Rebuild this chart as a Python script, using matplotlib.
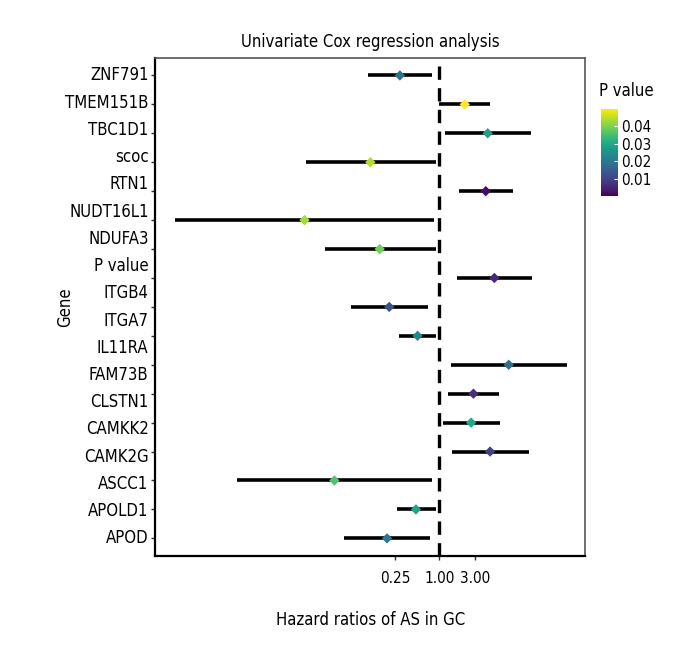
import numpy as np
import matplotlib
matplotlib.use("Agg")
from matplotlib import pyplot as plt
from matplotlib import colors as mcolors
from matplotlib import cm
import matplotlib.ticker as mticker

plt.rcParams['font.family'] = ['DejaVu Sans']
plt.rcParams['font.stretch'] = 'condensed'

# gene labels as shown on the y axis (18 labels over 17 rows)
gene_labels = ['ZNF791', 'TMEM151B', 'TBC1D1', 'scoc', 'RTN1', 'NUDT16L1',
               'NDUFA3', 'P value', 'ITGB4', 'ITGA7', 'IL11RA', 'FAM73B',
               'CLSTN1', 'CAMKK2', 'CAMK2G', 'ASCC1', 'APOLD1', 'APOD']

# hazard ratios and 95% CI, one per plotted row (top to bottom)
hr = [0.291, 2.20, 4.50, 0.116, 4.23, 0.0149, 0.155, 5.53, 0.209, 0.505,
      8.65, 2.88, 2.68, 4.84, 0.0378, 0.480, 0.195]
ci_low = [0.107, 1.00, 1.19, 0.0155, 1.83, 0.000267, 0.0280, 1.72, 0.0643,
          0.286, 1.45, 1.31, 1.11, 1.47, 0.00184, 0.263, 0.0507]
ci_high = [0.797, 4.84, 17.1, 0.903, 9.79, 0.830, 0.894, 18.0, 0.697, 0.894,
           52.5, 6.40, 6.66, 16.1, 0.790, 0.894, 0.749]
p_value = [0.019, 0.0498, 0.028, 0.044, 0.002, 0.043, 0.039, 0.006, 0.013,
           0.023, 0.019, 0.0067, 0.030, 0.010, 0.036, 0.029, 0.020]

x_ticks = [0.25, 1.0, 3.0]
x_tick_labels = ['0.25', '1.00', '3.00']
cbar_ticks = [0.01, 0.02, 0.03, 0.04]

rows = np.arange(len(hr))
norm = mcolors.Normalize(vmin=0.0004, vmax=0.0498)
cmap = plt.get_cmap('viridis')

fig = plt.figure(figsize=(6.8, 6.6), dpi=100)
ax = fig.add_axes([0.228, 0.158, 0.633, 0.754])

ax.hlines(rows, ci_low, ci_high, color='black', lw=2.6, zorder=2)
ax.axvline(1.0, color='black', lw=2.4, ls=(0, (4, 2.5)), zorder=1)
ax.scatter(hr, rows, c=p_value, cmap=cmap, norm=norm, marker='D', s=28,
           zorder=3, linewidths=0)

ax.set_xscale('log', base=2)
ax.set_xlim(2 ** -12.79, 2 ** 6.565)
ax.set_ylim(16.6, -0.6)
ax.set_xticks(x_ticks)
ax.set_xticklabels(x_tick_labels)
ax.xaxis.set_minor_locator(mticker.NullLocator())
ax.set_yticks(rows)
ax.set_yticklabels([])

# labels spread evenly over the same span as the rows
for lab, y in zip(gene_labels, np.linspace(0, 16, len(gene_labels))):
    ax.text(-0.015, y, lab, transform=ax.get_yaxis_transform(),
            ha='right', va='center', fontsize=12)

ax.tick_params(axis='both', length=3, width=1, labelsize=12, colors='#333333')
ax.tick_params(axis='x', labelcolor='black', labelsize=11, pad=8)
for side in ['left', 'bottom']:
    ax.spines[side].set_linewidth(1.6)
    ax.spines[side].set_color('black')
for side in ['top', 'right']:
    ax.spines[side].set_linewidth(1.2)
    ax.spines[side].set_color('#555555')

ax.set_title('Univariate Cox regression analysis', fontsize=12, pad=8)
ax.set_xlabel('Hazard ratios of AS in GC', fontsize=12, labelpad=18)
ax.set_ylabel('Gene', fontsize=12, labelpad=52)

cax = fig.add_axes([0.884, 0.703, 0.025, 0.132])
cb = fig.colorbar(cm.ScalarMappable(norm=norm, cmap=cmap), cax=cax,
                  ticks=cbar_ticks)
cb.outline.set_visible(False)
cb.ax.set_yticklabels(['0.01', '0.02', '0.03', '0.04'])
cb.ax.tick_params(length=3, width=0.8, color='white', direction='in',
                  labelsize=11, pad=2)
cax.text(-0.15, 1.1, 'P value', transform=cax.transAxes, fontsize=12,
         ha='left', va='bottom')

fig.savefig('out.png', dpi=100)
